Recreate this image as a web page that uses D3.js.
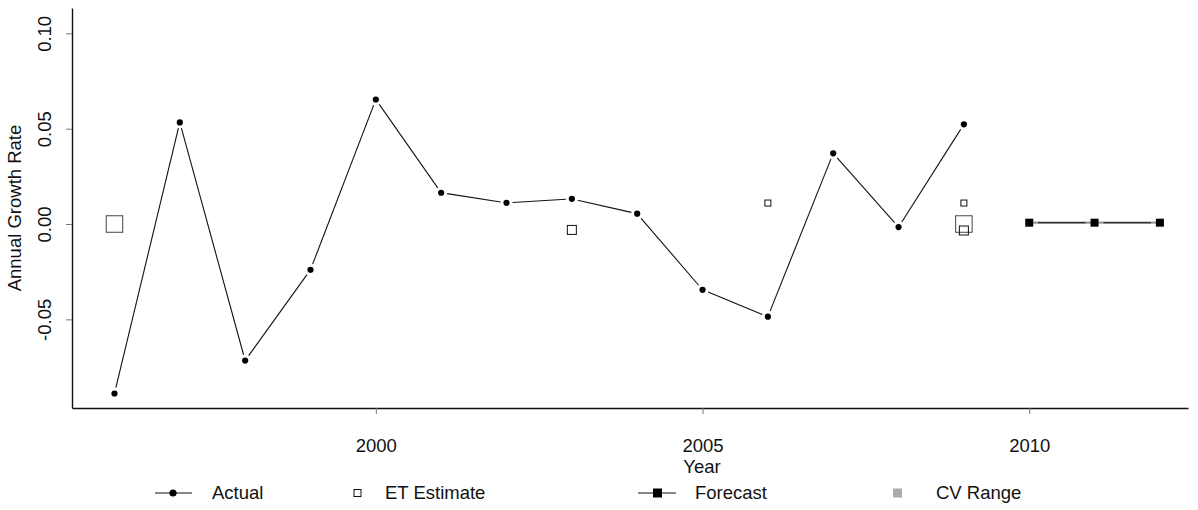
<!DOCTYPE html>
<html><head><meta charset="utf-8">
<script src="https://cdn.jsdelivr.net/npm/d3@7"></script>
<style>body{margin:0;background:#fff}svg{display:block}text{font-family:"Liberation Sans",Arial,sans-serif;fill:#111}</style>
</head><body>
<svg id="c" width="1198" height="510"></svg>
<script>
const actualYears = [1996,1997,1998,1999,2000,2001,2002,2003,2004,2005,2006,2007,2008,2009];
const actualValues = [-0.0889,0.0533,-0.0716,-0.0240,0.0653,0.0164,0.0111,0.0132,0.0054,-0.0345,-0.0486,0.0371,-0.0016,0.0523];
const etYears = [1996,2003,2006,2009,2009,2009];
const etValues = [0.0,-0.0031,0.0110,0.0110,0.0,-0.0034];
const etWeights = [3,1.5,1,1,3,1.5];
const forecastYears = [2010,2011,2012];
const forecastValues = [0.0007,0.0007,0.0007];
const xTicks = [2000,2005,2010];
const yTicks = [-0.05,0.0,0.05,0.10];
const legendLabels = ["Actual","ET Estimate","Forecast","CV Range"];

const FS = 18.5;
const svg = d3.select("#c");
const x = d3.scaleLinear().domain([1995.35,2012.43]).range([72,1188]);
const y = d3.scaleLinear().domain([-0.0965,0.1133]).range([408,8]);
const fmtY = d => d3.format(".2f")(d).replace("\u2212","-");

// axes
const xa = svg.append("g").attr("transform","translate(0,408)")
  .call(d3.axisBottom(x).tickValues(xTicks).tickFormat(d3.format("d")).tickSize(6).tickSizeOuter(0).tickPadding(25));
const ya = svg.append("g").attr("transform","translate(72,0)")
  .call(d3.axisLeft(y).tickValues(yTicks).tickFormat(fmtY).tickSize(6).tickSizeOuter(0).tickPadding(0));
[xa,ya].forEach(a=>{
  a.select(".domain").attr("stroke","#111").attr("stroke-width",1.4);
  a.selectAll(".tick line").attr("stroke","#777");
  a.selectAll("text").attr("font-size",FS).attr("fill","#111").style("font-family","Liberation Sans, Arial, sans-serif");
});
ya.selectAll(".tick text").attr("transform","translate(-27,0) rotate(-90)")
  .attr("text-anchor","middle").attr("x",0).attr("dy","0.35em");

svg.append("text").attr("x",702).attr("y",467).attr("dy","0.35em").attr("text-anchor","middle").attr("font-size",FS).text("Year");
svg.append("text").attr("transform","translate(15,208) rotate(-90)").attr("dy","0.35em").attr("text-anchor","middle").attr("font-size",FS).text("Annual Growth Rate");

// line with gaps (type "b")
function gappedSegments(g, xs, vs, gap, stroke, sw){
  for(let i=0;i<xs.length-1;i++){
    const x1=x(xs[i]),y1=y(vs[i]),x2=x(xs[i+1]),y2=y(vs[i+1]);
    const dx=x2-x1,dy=y2-y1,L=Math.hypot(dx,dy);
    if(L<=2*gap) continue;
    const ux=dx/L,uy=dy/L;
    g.append("line").attr("x1",x1+ux*gap).attr("y1",y1+uy*gap).attr("x2",x2-ux*gap).attr("y2",y2-uy*gap)
      .attr("stroke",stroke).attr("stroke-width",sw);
  }
}
const plot = svg.append("g");
gappedSegments(plot, actualYears, actualValues, 6, "#111", 1.1);
plot.selectAll("circle.act").data(actualYears).join("circle").attr("class","act")
  .attr("cx",(d,i)=>x(d)).attr("cy",(d,i)=>y(actualValues[i])).attr("r",3.1).attr("fill","#000");

// forecast: gray CV band line + black gapped line
plot.append("line").attr("x1",x(forecastYears[0])).attr("x2",x(forecastYears[forecastYears.length-1]))
  .attr("y1",y(forecastValues[0])).attr("y2",y(forecastValues[forecastValues.length-1]))
  .attr("stroke","#9a9a9a").attr("stroke-width",2.2);
gappedSegments(plot, forecastYears, forecastValues, 9, "#111", 1.1);
plot.selectAll("rect.fc").data(forecastYears).join("rect").attr("class","fc")
  .attr("x",d=>x(d)-4).attr("y",(d,i)=>y(forecastValues[i])-4).attr("width",8).attr("height",8).attr("fill","#000");

// ET estimates
const etSize = w => w>=3 ? 16.5 : (w>=1.5 ? 9 : 6);
plot.selectAll("rect.et").data(etYears).join("rect").attr("class","et")
  .attr("x",(d,i)=>x(d)-etSize(etWeights[i])/2).attr("y",(d,i)=>y(etValues[i])-etSize(etWeights[i])/2)
  .attr("width",(d,i)=>etSize(etWeights[i])).attr("height",(d,i)=>etSize(etWeights[i]))
  .attr("fill","none").attr("stroke",(d,i)=>etWeights[i]>=3?"#444":"#111").attr("stroke-width",1);

// legend
const ly = 493;
const lg = svg.append("g");
lg.append("line").attr("x1",155).attr("x2",192).attr("y1",ly).attr("y2",ly).attr("stroke","#111");
lg.append("circle").attr("cx",173).attr("cy",ly).attr("r",3.6).attr("fill","#000");
lg.append("rect").attr("x",354).attr("y",ly-3.5).attr("width",7).attr("height",7).attr("fill","none").attr("stroke","#111");
lg.append("line").attr("x1",638).attr("x2",676).attr("y1",ly).attr("y2",ly).attr("stroke","#111");
lg.append("rect").attr("x",653).attr("y",ly-4.5).attr("width",9).attr("height",9).attr("fill","#000");
lg.append("rect").attr("x",893).attr("y",ly-4.5).attr("width",9).attr("height",9).attr("fill","#aaa");
const lx = [212,385,695,936];
lg.selectAll("text").data(legendLabels).join("text").attr("x",(d,i)=>lx[i]).attr("y",ly).attr("dy","0.35em")
  .attr("font-size",FS).text(d=>d);
</script>
</body></html>
